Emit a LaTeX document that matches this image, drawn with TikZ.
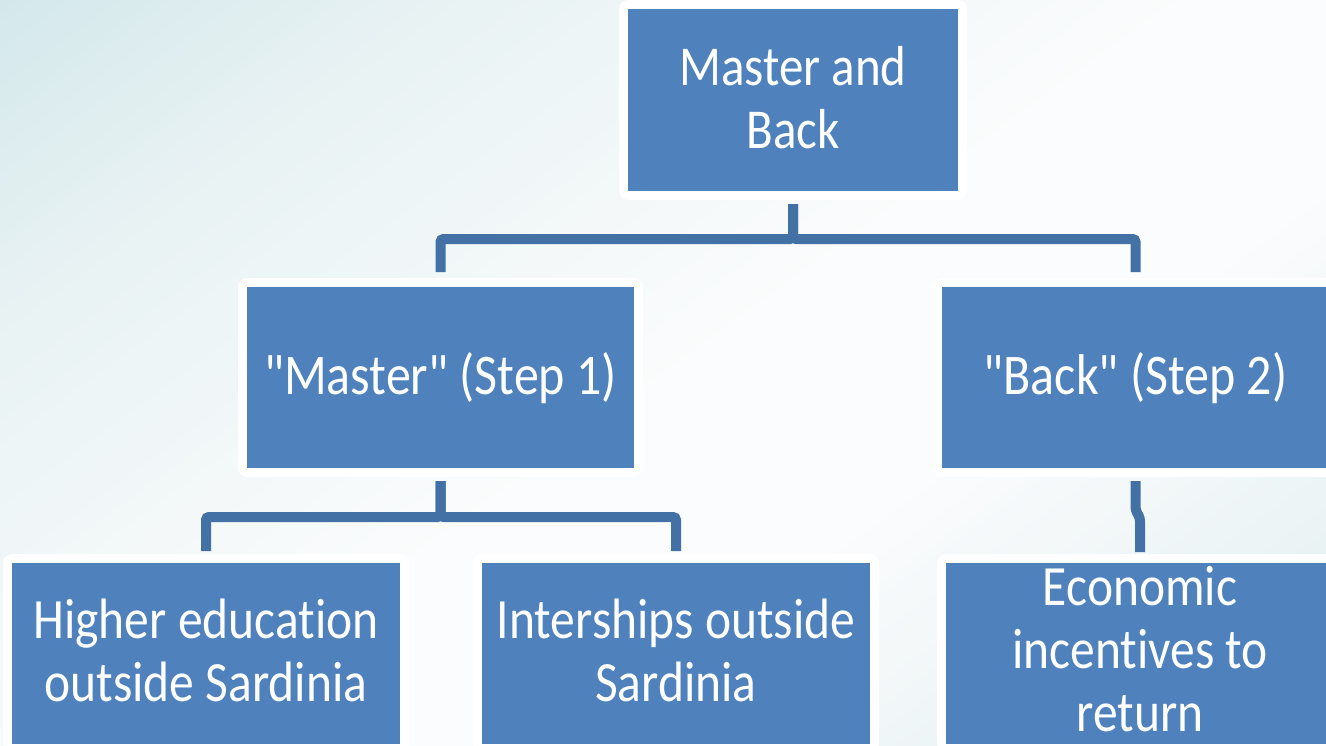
\documentclass[tikz,border=0pt]{standalone}
\usepackage{fontspec}
\setmainfont{Carlito}[Ligatures={TeXOff,NoCommon}]
\usepackage{graphicx}
\definecolor{boxblue}{HTML}{4F81BD}
\definecolor{linkblue}{HTML}{4371A6}
\definecolor{bga}{HTML}{D4E8EC}
\definecolor{bgb}{HTML}{E8F2F3}
\definecolor{bgmid}{HTML}{FBFCFD}
\definecolor{bgbr}{HTML}{E0EDEF}
\newcommand\boxtext[2]{\fontsize{#1}{54.8}\selectfont\scalebox{1}[1.15]{\begin{tabular}{@{}c@{}}#2\end{tabular}}}
\begin{document}
\begin{tikzpicture}[x=1pt,y=-1pt,
  box/.style 2 args={fill=boxblue, draw=none, inner sep=0pt, outer sep=0pt,
    minimum width=#1, minimum height=#2,
    preaction={draw=white, line width=18pt, line join=round}},
  lbl/.style={text=white, inner sep=0pt, outer sep=0pt, yshift=-4pt},
  conn/.style={draw=linkblue, line width=10pt, rounded corners=3pt}]
\useasboundingbox (0,0) rectangle (1326,745);
\clip (0,0) rectangle (1326,745);
% background gradient along the diagonal from top left to bottom right,
% built from thin strips
\begin{scope}[rotate=-54]
  \foreach \t in {0,10,...,240} {
    \pgfmathsetmacro\p{100-\t/2.5}
    \fill[bga!\p!bgb] (\t,-1600) rectangle (\t+11,1600);
  }
  \foreach \t in {250,260,...,690} {
    \pgfmathsetmacro\p{100-(\t-250)/4.5}
    \fill[bgb!\p!bgmid] (\t,-1600) rectangle (\t+11,1600);
  }
  \fill[bgmid] (700,-1600) rectangle (921,1600);
  \foreach \t in {920,930,...,1390} {
    \pgfmathsetmacro\p{100-(\t-920)/4.7}
    \fill[bgmid!\p!bgbr] (\t,-1600) rectangle (\t+11,1600);
  }
\end{scope}

% boxes
\node[box={330pt}{182pt}] (top) at (793,100) {};
\node[box={387pt}{181pt}] (master) at (440.5,377.5) {};
\node[box={387pt}{181pt}] (back) at (1135.5,377.5) {};
\node[box={388pt}{181pt}] (hedu) at (206,653.5) {};
\node[box={388pt}{181pt}] (intern) at (676,653.5) {};
\node[box={388pt}{181pt}] (econ) at (1140,653.5) {};

% texts
\node[lbl] (toplbl) at (top) {\boxtext{49}{Master and\\Back}};
\node[lbl] (masterlbl) at (master) {\boxtext{50}{"Master" (Step 1)}};
\node[lbl] (backlbl) at (back) {\boxtext{50}{"Back" (Step 2)}};
\node[lbl] (hedulbl) at (hedu) {\boxtext{49.5}{Higher education\\outside Sardinia}};
\node[lbl] (internlbl) at (intern) {\boxtext{49.5}{Interships outside\\Sardinia}};
\node[lbl, yshift=2pt] (econlbl) at (econ) {\boxtext{49.5}{Economic\\incentives to\\return}};

% connectors
\draw[conn] ([yshift=-13pt]top.south) -- ++(0,35) -| ([yshift=15pt]master.north);
\draw[conn] ([yshift=-13pt]top.south) -- ++(0,35) -| ([yshift=15pt]back.north);
\draw[conn] ([yshift=-13pt]master.south) -- ++(0,36) -| ([yshift=12pt]hedu.north);
\draw[conn] ([yshift=-13pt]master.south) -- ++(0,36) -| ([yshift=12pt]intern.north);
\draw[conn] ([yshift=-13pt]back.south) -- ++(0,29) -- ++(4.5,8) -- ([yshift=11pt]econ.north);
\end{tikzpicture}
\end{document}
